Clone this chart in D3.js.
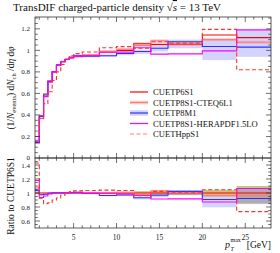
<!DOCTYPE html>
<html><head><meta charset="utf-8">
<script src="https://cdn.jsdelivr.net/npm/d3@7"></script>
<style>
html,body{margin:0;padding:0;background:#fff;}
svg{display:block;font-family:"Liberation Serif","DejaVu Serif",serif;}
</style></head>
<body><svg id="c" width="280" height="253"></svg>
<script>
// ---- data ----
const edges = [0.5,1,1.5,2,2.5,3,3.5,4,4.5,5,6,8,10,12,14,16,20,24,28];
const p6s1   = [0.140,0.395,0.595,0.715,0.800,0.862,0.895,0.915,0.930,0.942,0.952,0.985,1.000,1.062,1.055,1.055,1.143,1.118];
const p6Lo   = [0.139,0.393,0.592,0.712,0.797,0.858,0.890,0.909,0.924,0.935,0.944,0.975,0.985,1.035,1.025,1.025,1.090,0.950];
const p6Hi   = [0.141,0.397,0.598,0.718,0.803,0.866,0.900,0.921,0.936,0.949,0.960,0.995,1.015,1.090,1.085,1.085,1.195,1.230];
const cteq   = [0.150,0.390,0.590,0.712,0.800,0.862,0.897,0.918,0.935,0.948,0.958,0.992,1.010,1.045,1.090,1.060,1.100,1.076];
const cteqLo = [0.146,0.386,0.585,0.707,0.795,0.857,0.891,0.912,0.928,0.940,0.950,0.982,0.998,1.030,1.050,1.040,1.085,1.060];
const cteqHi = [0.154,0.394,0.595,0.717,0.805,0.867,0.903,0.924,0.942,0.956,0.966,1.002,1.022,1.075,1.103,1.080,1.115,1.090];
const m1     = [0.145,0.385,0.585,0.712,0.802,0.865,0.897,0.918,0.935,0.950,0.945,0.950,0.972,0.990,1.020,1.080,1.036,1.030];
const m1Lo   = [0.142,0.381,0.580,0.706,0.796,0.858,0.889,0.909,0.925,0.938,0.935,0.938,0.955,0.965,0.990,1.020,0.910,0.940];
const m1Hi   = [0.148,0.389,0.590,0.718,0.808,0.872,0.905,0.927,0.945,0.962,0.955,0.962,0.989,1.005,1.050,1.100,1.100,1.190];
const hera   = [0.165,0.370,0.570,0.705,0.800,0.862,0.895,0.915,0.933,0.945,0.950,0.982,0.985,1.025,0.965,0.967,0.995,1.190];
const hpp    = [0.200,0.365,0.505,0.615,0.720,0.800,0.868,0.915,0.950,0.970,0.985,1.025,1.035,1.020,1.080,1.067,1.195,0.820];
const seriesNames = ["CUETP6S1","CUETP8S1-CTEQ6L1","CUETP8M1","CUETP8S1-HERAPDF1.5LO","CUETHppS1"];
const mainTicks = [0,0.2,0.4,0.6,0.8,1,1.2];
const ratioTicks = [0.6,0.8,1,1.2,1.4];
const xTicks = [5,10,15,20,25];

// ---- layout ----
const L = 35, R = 271, T = 17, M = 158, B = 228;
const svg = d3.select("#c");
const x = d3.scaleLinear().domain([0.5,28]).range([L,R]);
const y = d3.scaleLinear().domain([0,1.31]).range([M,T]);
const yr = d3.scaleLinear().domain([0.5,1.5]).range([B,M]);

const defs = svg.append("defs");
defs.append("clipPath").attr("id","cm").append("rect").attr("x",L).attr("y",T).attr("width",R-L).attr("height",M-T);
defs.append("clipPath").attr("id","cr").append("rect").attr("x",L).attr("y",M).attr("width",R-L).attr("height",B-M);

function stepPath(vals, ys){
  let d = "";
  vals.forEach((v,i)=>{
    const x0 = x(edges[i]), x1 = x(edges[i+1]), yy = ys(v);
    d += (i===0 ? "M" : "L") + x0 + "," + yy + "L" + x1 + "," + yy;
  });
  return d;
}
function bandRects(g, lo, hi, ys, fill, op){
  g.selectAll(null).data(lo).enter().append("rect")
    .attr("x",(d,i)=>x(edges[i])).attr("width",(d,i)=>x(edges[i+1])-x(edges[i]))
    .attr("y",(d,i)=>ys(hi[i])).attr("height",(d,i)=>Math.max(0,ys(lo[i])-ys(hi[i])))
    .attr("fill",fill).attr("fill-opacity",op);
}
const styles = [
  {vals:p6s1, color:"#ff0000", dash:null, w:1.1},
  {vals:cteq, color:"#ff7b7b", dash:null, w:1.1},
  {vals:m1,   color:"#3030ff", dash:null, w:1.1},
  {vals:hera, color:"#ff00ff", dash:null, w:1.1},
  {vals:hpp,  color:"#ff3030", dash:"4,2.5", w:1.1}
];

// ---- main panel ----
const gm = svg.append("g").attr("clip-path","url(#cm)");
bandRects(gm, m1Lo, m1Hi, y, "#8080ff", 0.35);
bandRects(gm, cteqLo, cteqHi, y, "#ff9090", 0.45);
styles.forEach(s=>{
  gm.append("path").attr("d",stepPath(s.vals,y)).attr("fill","none")
    .attr("stroke",s.color).attr("stroke-width",s.w).attr("stroke-dasharray",s.dash);
});

// ---- ratio panel ----
const gr = svg.append("g").attr("clip-path","url(#cr)");
bandRects(gr, p6Lo.map((v,i)=>v/p6s1[i]), p6Hi.map((v,i)=>v/p6s1[i]), yr, "#a89a2a", 0.6);
bandRects(gr, m1Lo.map((v,i)=>v/p6s1[i]), m1Hi.map((v,i)=>v/p6s1[i]), yr, "#8080ff", 0.35);
bandRects(gr, cteqLo.map((v,i)=>v/p6s1[i]), cteqHi.map((v,i)=>v/p6s1[i]), yr, "#ff9090", 0.35);
styles.forEach(s=>{
  gr.append("path").attr("d",stepPath(s.vals.map((v,i)=>v/p6s1[i]),yr)).attr("fill","none")
    .attr("stroke",s.color).attr("stroke-width",s.w).attr("stroke-dasharray",s.dash);
});

// ---- frames and ticks ----
const axColor = "#333";
function frame(y0,y1){
  svg.append("rect").attr("x",L).attr("y",y0).attr("width",R-L).attr("height",y1-y0)
    .attr("fill","none").attr("stroke",axColor).attr("stroke-width",0.8);
}
frame(T,M); frame(M,B);
function xTicksAt(yy, dir){
  const minors = d3.range(1,29,1).filter(v=>v>0.5&&v<28);
  minors.forEach(v=>{
    const maj = v%5===0;
    const len = maj?5:2.8;
    svg.append("line").attr("x1",x(v)).attr("x2",x(v)).attr("y1",yy).attr("y2",yy+dir*len)
      .attr("stroke",axColor).attr("stroke-width",0.7);
  });
}
xTicksAt(T,1); xTicksAt(M,-1); xTicksAt(M,1); xTicksAt(B,-1);
function yTicksAt(scale, lo, hi, majors){
  const minors = d3.range(Math.round(lo*20), Math.round(hi*20)+1).map(k=>k/20);
  minors.forEach(v=>{
    const maj = majors.some(m=>Math.abs(m-v)<1e-6);
    const len = maj?5:2.8;
    [[L,1],[R,-1]].forEach(([xx,dir])=>{
      svg.append("line").attr("x1",xx).attr("x2",xx+dir*len).attr("y1",scale(v)).attr("y2",scale(v))
        .attr("stroke",axColor).attr("stroke-width",0.7);
    });
  });
}
yTicksAt(y, 0.05, 1.30, mainTicks);
yTicksAt(yr, 0.55, 1.45, ratioTicks);

// tick labels
const tf = 7;
svg.selectAll(null).data(mainTicks).enter().append("text")
  .attr("x",30).attr("y",d=>y(d)+(d===0?1.5:2.5)).attr("text-anchor","end").attr("font-size",tf).attr("fill","#222")
  .text(d=>d===0?"0":(d===1?"1":d3.format(".1f")(d)));
svg.selectAll(null).data(ratioTicks).enter().append("text")
  .attr("x",30).attr("y",d=>yr(d)+(d===1.4?3.2:2.5)).attr("text-anchor","end").attr("font-size",tf).attr("fill","#222")
  .text(d=>d===1?"1":d3.format(".1f")(d));
svg.selectAll(null).data(xTicks).enter().append("text")
  .attr("x",d=>x(d)).attr("y",240).attr("text-anchor","middle").attr("font-size",7.5).attr("fill","#222")
  .text(d=>d);

// title
const title = svg.append("text").attr("x",13).attr("y",11).attr("font-size",11).attr("fill","#111");
title.append("tspan").text("TransDIF charged-particle density ");
title.append("tspan").text("√");
title.append("tspan").attr("font-style","italic").attr("text-decoration","overline").text("s");
title.append("tspan").text(" = 13 TeV");

// y labels
const yl = svg.append("text").attr("transform","translate(14,88) rotate(-90)")
  .attr("text-anchor","middle").attr("font-size",9.5).attr("fill","#111");
yl.append("tspan").text("(1/");
yl.append("tspan").attr("font-style","italic").text("N");
yl.append("tspan").attr("font-size",6.5).attr("dy",2).text("events");
yl.append("tspan").attr("dy",-2).text(") d");
yl.append("tspan").attr("font-style","italic").text("N");
yl.append("tspan").attr("font-size",6.5).attr("dy",2).text("ch");
yl.append("tspan").attr("dy",-2).text(" /d");
yl.append("tspan").attr("font-style","italic").text("η");
yl.append("tspan").text(" d");
yl.append("tspan").attr("font-style","italic").text("φ");

svg.append("text").attr("transform","translate(14,196) rotate(-90)")
  .attr("text-anchor","middle").attr("font-size",9.5).attr("fill","#111").text("Ratio to CUETP6S1");

// x label
svg.append("text").attr("x",225).attr("y",248).attr("font-size",10).attr("font-style","italic").attr("fill","#111").text("p");
svg.append("text").attr("x",230.5).attr("y",241.5).attr("font-size",6).attr("fill","#111").text("max");
svg.append("text").attr("x",230.5).attr("y",250.5).attr("font-size",6).attr("font-style","italic").attr("fill","#111").text("T");
svg.append("text").attr("x",271).attr("y",248).attr("text-anchor","end").attr("font-size",9.5).attr("fill","#111").text("[GeV]");

// legend
const lg = svg.append("g");
seriesNames.forEach((n,i)=>{
  const yy = 92 + i*10.5;
  const s = styles[i];
  if(i===2){
    lg.append("rect").attr("x",130).attr("y",yy-2.8).attr("width",18).attr("height",5.6).attr("fill","#8080ff").attr("fill-opacity",0.35);
  }
  if(i===1){
    lg.append("rect").attr("x",130).attr("y",yy-1.8).attr("width",18).attr("height",3.6).attr("fill","#ff9090").attr("fill-opacity",0.45);
  }
  lg.append("line").attr("x1",130).attr("x2",148).attr("y1",yy).attr("y2",yy)
    .attr("stroke", i===4 ? "#ff8080" : s.color).attr("stroke-width",1.2).attr("stroke-dasharray",s.dash);
  lg.append("text").attr("x",153).attr("y",yy+3).attr("font-size",8.6).attr("fill","#111").text(n);
});
</script></body></html>
